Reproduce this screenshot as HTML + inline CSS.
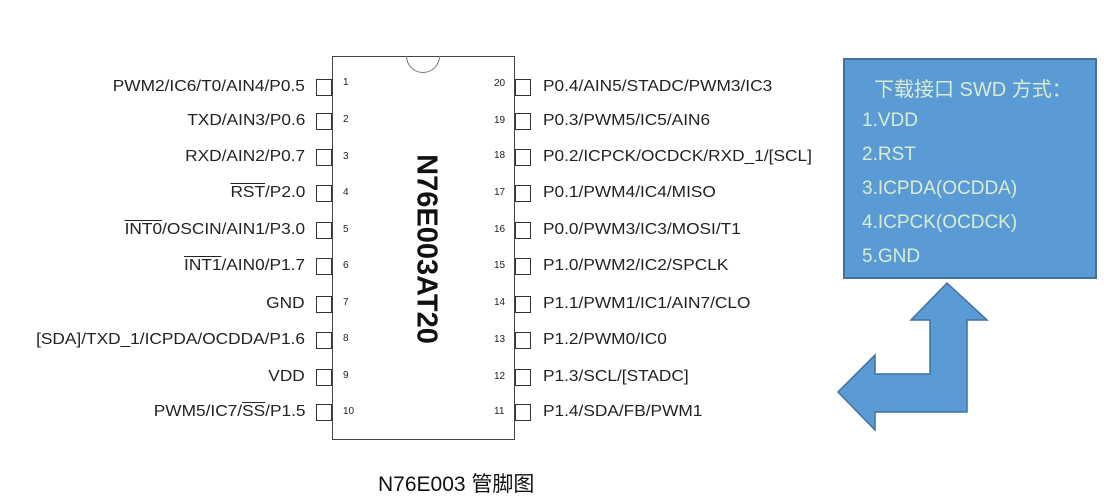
<!DOCTYPE html>
<html><head><meta charset="utf-8"><style>
body{margin:0;width:1104px;height:500px;background:#fff;position:relative;overflow:hidden;font-family:"Liberation Sans",Arial,sans-serif;}
.l{position:absolute;right:799px;font-size:16px;color:#222;white-space:nowrap;line-height:18px;transform:scaleX(1.08);transform-origin:right center;}
.r{position:absolute;left:543px;font-size:16px;color:#222;white-space:nowrap;line-height:18px;transform:scaleX(1.08);transform-origin:left center;}
.pb{position:absolute;width:16px;height:17px;border:1px solid #333;background:#fff;box-sizing:border-box;}
.n{position:absolute;font-size:10px;color:#222;line-height:12px;}
.ov{text-decoration:overline;}
.sw{position:absolute;left:862px;font-family:"Liberation Sans","Noto Sans CJK SC",sans-serif;font-size:19px;color:#d9ecd0;}
</style></head><body>
<div style="position:absolute;left:332px;top:56px;width:183px;height:384px;border:1px solid #444;box-sizing:border-box;"></div>
<div style="position:absolute;left:406px;top:39px;width:34px;height:34px;border:1px solid #777;border-radius:50%;box-sizing:border-box;clip-path:inset(17px 0 0 0);"></div>
<div style="position:absolute;left:426px;top:249px;transform:translate(-50%,-50%) rotate(90deg);font-weight:bold;font-size:29px;color:#111;white-space:nowrap;">N76E003AT20</div>

<div class="l" style="top:78px">PWM2/IC6/T0/AIN4/P0.5</div>
<div class="l" style="top:112px">TXD/AIN3/P0.6</div>
<div class="l" style="top:148px">RXD/AIN2/P0.7</div>
<div class="l" style="top:184px"><span class="ov">RST</span>/P2.0</div>
<div class="l" style="top:221px"><span class="ov">INT0</span>/OSCIN/AIN1/P3.0</div>
<div class="l" style="top:257px"><span class="ov">INT1</span>/AIN0/P1.7</div>
<div class="l" style="top:295px">GND</div>
<div class="l" style="top:331px">[SDA]/TXD_1/ICPDA/OCDDA/P1.6</div>
<div class="l" style="top:368px">VDD</div>
<div class="l" style="top:403px">PWM5/IC7/<span class="ov">SS</span>/P1.5</div>

<div class="r" style="top:78px">P0.4/AIN5/STADC/PWM3/IC3</div>
<div class="r" style="top:112px">P0.3/PWM5/IC5/AIN6</div>
<div class="r" style="top:148px">P0.2/ICPCK/OCDCK/RXD_1/[SCL]</div>
<div class="r" style="top:184px">P0.1/PWM4/IC4/MISO</div>
<div class="r" style="top:221px">P0.0/PWM3/IC3/MOSI/T1</div>
<div class="r" style="top:257px">P1.0/PWM2/IC2/SPCLK</div>
<div class="r" style="top:295px">P1.1/PWM1/IC1/AIN7/CLO</div>
<div class="r" style="top:331px">P1.2/PWM0/IC0</div>
<div class="r" style="top:368px">P1.3/SCL/[STADC]</div>
<div class="r" style="top:403px">P1.4/SDA/FB/PWM1</div>

<div class="pb" style="left:316px;top:79px"></div><div class="pb" style="left:515px;top:79px"></div>
<div class="pb" style="left:316px;top:113px"></div><div class="pb" style="left:515px;top:113px"></div>
<div class="pb" style="left:316px;top:149px"></div><div class="pb" style="left:515px;top:149px"></div>
<div class="pb" style="left:316px;top:185px"></div><div class="pb" style="left:515px;top:185px"></div>
<div class="pb" style="left:316px;top:222px"></div><div class="pb" style="left:515px;top:222px"></div>
<div class="pb" style="left:316px;top:258px"></div><div class="pb" style="left:515px;top:258px"></div>
<div class="pb" style="left:316px;top:296px"></div><div class="pb" style="left:515px;top:296px"></div>
<div class="pb" style="left:316px;top:332px"></div><div class="pb" style="left:515px;top:332px"></div>
<div class="pb" style="left:316px;top:369px"></div><div class="pb" style="left:515px;top:369px"></div>
<div class="pb" style="left:316px;top:404px"></div><div class="pb" style="left:515px;top:404px"></div>

<div class="n" style="left:343px;top:77px">1</div><div class="n" style="left:494px;top:78px">20</div>
<div class="n" style="left:343px;top:114px">2</div><div class="n" style="left:494px;top:115px">19</div>
<div class="n" style="left:343px;top:151px">3</div><div class="n" style="left:494px;top:150px">18</div>
<div class="n" style="left:343px;top:187px">4</div><div class="n" style="left:494px;top:187px">17</div>
<div class="n" style="left:343px;top:224px">5</div><div class="n" style="left:494px;top:224px">16</div>
<div class="n" style="left:343px;top:260px">6</div><div class="n" style="left:494px;top:260px">15</div>
<div class="n" style="left:343px;top:297px">7</div><div class="n" style="left:494px;top:297px">14</div>
<div class="n" style="left:343px;top:333px">8</div><div class="n" style="left:494px;top:334px">13</div>
<div class="n" style="left:343px;top:370px">9</div><div class="n" style="left:494px;top:371px">12</div>
<div class="n" style="left:343px;top:406px">10</div><div class="n" style="left:494px;top:406px">11</div>

<div style="position:absolute;left:378px;top:468px;font-family:'Liberation Sans','Noto Sans CJK SC',sans-serif;font-size:21px;color:#111;">N76E003 管脚图</div>

<div style="position:absolute;left:843px;top:58px;width:254px;height:221px;background:#5b9bd5;border:2px solid #41719c;box-sizing:border-box;"></div>
<div class="sw" style="top:73px;left:874px;font-size:20px">下载接口 SWD 方式：</div>
<div class="sw" style="top:110px">1.VDD</div>
<div class="sw" style="top:144px">2.RST</div>
<div class="sw" style="top:178px">3.ICPDA(OCDDA)</div>
<div class="sw" style="top:212px">4.ICPCK(OCDCK)</div>
<div class="sw" style="top:246px">5.GND</div>

<svg style="position:absolute;left:0;top:0" width="1104" height="500">
<polygon points="947,283 987,320 967,320 967,412 875,412 875,430 838,392 875,355 875,374 930,374 930,320 911,320" fill="#5b9bd5" stroke="#41719c" stroke-width="1.5"/>
</svg>
</body></html>
